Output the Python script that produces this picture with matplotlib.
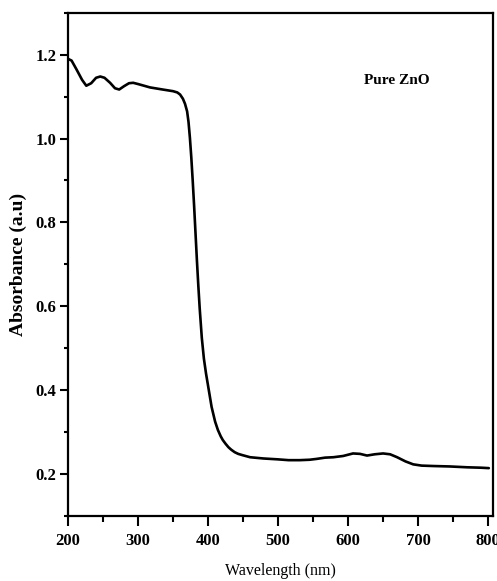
import matplotlib
matplotlib.use("Agg")
import matplotlib.pyplot as plt
from matplotlib.ticker import MultipleLocator

wavelength = [200, 205, 212, 220, 226, 233, 240, 246, 252, 260, 267, 273, 280, 287, 293,
              300, 317, 335, 350, 356, 360, 364, 367, 370, 372, 374, 376, 378, 380, 382,
              384, 386, 388, 391, 394, 397, 400, 405, 410, 414, 418, 421, 425, 429, 433,
              438, 443, 449, 460, 479, 499, 515, 531, 545, 555, 567, 579, 593,
              607, 617, 627, 638, 650, 660, 670, 682, 693, 705, 722, 745, 770, 790, 801]
absorbance = [1.190, 1.186, 1.165, 1.140, 1.126, 1.132, 1.145, 1.148, 1.145, 1.133, 1.120, 1.117, 1.125, 1.132, 1.133,
              1.130, 1.122, 1.117, 1.113, 1.110, 1.105, 1.095, 1.083, 1.065, 1.040, 1.002, 0.955, 0.900, 0.840, 0.775,
              0.710, 0.650, 0.595, 0.525, 0.475, 0.440, 0.410, 0.360, 0.325, 0.305, 0.290, 0.281, 0.272, 0.264, 0.258,
              0.252, 0.248, 0.245, 0.240, 0.237, 0.235, 0.233, 0.233, 0.234, 0.236, 0.239, 0.240, 0.243,
              0.249, 0.248, 0.244, 0.247, 0.249, 0.247, 0.240, 0.230, 0.223, 0.220, 0.219, 0.218, 0.216, 0.215, 0.214]

x_ticks = [200, 300, 400, 500, 600, 700, 800]
y_ticks = [0.2, 0.4, 0.6, 0.8, 1.0, 1.2]

plt.rcParams['font.family'] = ['Liberation Serif', 'DejaVu Serif']

fig = plt.figure(figsize=(4.97, 5.81), dpi=100)
ax = fig.add_axes([0.137, 0.112, 0.855, 0.866])
ax.plot(wavelength, absorbance, color='black', lw=1.9, solid_capstyle='round', solid_joinstyle='round')

ax.set_xlim(200, 807)
ax.set_ylim(0.1, 1.3)
ax.set_xticks(x_ticks)
ax.set_yticks(y_ticks)
ax.set_xticklabels([str(v) for v in x_ticks], fontweight='bold', fontsize=12)
ax.set_yticklabels([f"{v:.1f}" for v in y_ticks], fontweight='bold', fontsize=12)
ax.xaxis.set_minor_locator(MultipleLocator(50))
ax.yaxis.set_minor_locator(MultipleLocator(0.1))
ax.tick_params(axis='x', which='major', direction='out', length=7.5, width=1.5, pad=5)
ax.tick_params(axis='x', which='minor', direction='out', length=4, width=1.5)
ax.tick_params(axis='y', which='major', direction='out', length=5.5, width=1.5, pad=3)
ax.tick_params(axis='y', which='minor', direction='out', length=3, width=1.5)
ax.tick_params(top=False, right=False, which='both')
for s in ax.spines.values():
    s.set_linewidth(1.6)

ax.set_xlabel('Wavelength (nm)', fontsize=11.5, labelpad=10)
ax.set_ylabel('Absorbance (a.u)', fontsize=14, fontweight='bold', labelpad=6)
ax.text(670, 1.138, 'Pure ZnO', fontsize=11, fontweight='bold', ha='center', va='center')

fig.savefig('out.png', dpi=100)
